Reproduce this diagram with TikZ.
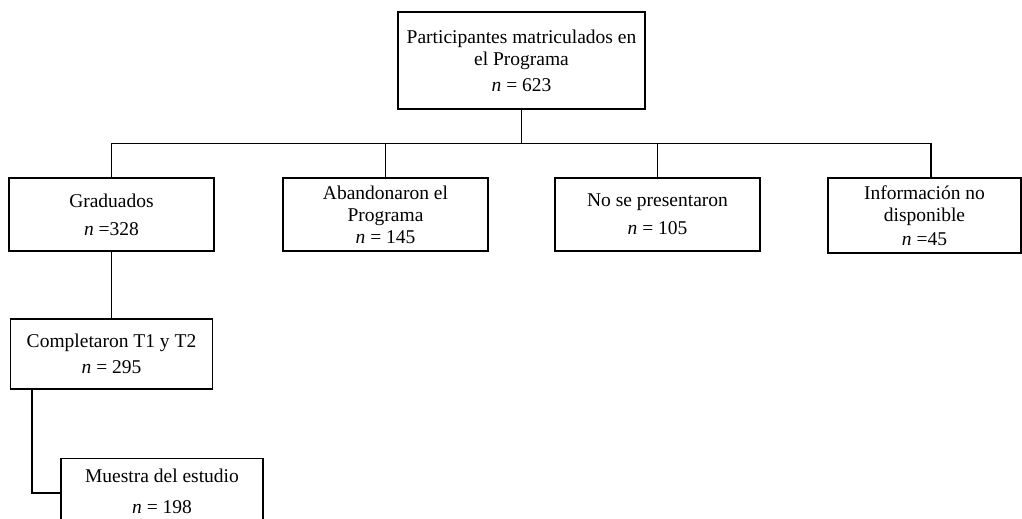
\documentclass[tikz,border=0pt]{standalone}
\usepackage{fontspec}
\setmainfont{Liberation Serif}
\tikzset{
  caja/.style={draw, line width=1.2pt, align=center, inner sep=1pt,
               font=\fontsize{19.5}{22}\selectfont},
  linea/.style={line width=1.2pt}
}
\newcommand{\enn}[1]{\textit{n} #1}
\begin{document}
\begin{tikzpicture}[x=1pt,y=-1pt]
\useasboundingbox (0,0) rectangle (1022,519);

% caja principal
\node[caja, minimum width=247, minimum height=97] (prog) at (521.5,60.5)
      {Participantes matriculados en\\el Programa\\[4pt]\enn{= 623}};

% segundo nivel
\node[caja, minimum width=205, minimum height=73] (grad) at (111.5,214.5)
      {Graduados\\[6pt]\enn{=328}};
\node[caja, minimum width=205, minimum height=73] (aban) at (385.5,214.5)
      {Abandonaron el\\Programa\\[0pt]\enn{= 145}};
\node[caja, minimum width=205, minimum height=73] (nose) at (657.5,214.5)
      {No se presentaron\\[6pt]\enn{= 105}};
\node[caja, minimum width=193, minimum height=75] (info) at (924.5,215.5)
      {Información no\\disponible\\[2pt]\enn{=45}};

% tercer y cuarto nivel
\node[caja, minimum width=202, minimum height=70] (comp) at (111.5,354)
      {Completaron T1 y T2\\[4pt]\enn{= 295}};
\node[caja, minimum width=202, minimum height=70, anchor=north] (mues) at (162,458)
      {\rule{0pt}{19pt}Muestra del estudio\\[9pt]\enn{= 198}\rule[-10pt]{0pt}{10pt}};

% conectores
\coordinate (bus) at (521.5,143.5);
\coordinate (codo) at (32,493);
\draw[linea] (prog.south) -- (bus);
\draw[linea] (grad.north) |- (bus) -| ([xshift=6.5pt]info.north);
\draw[linea] (aban.north) -- (aban.north |- bus);
\draw[linea] (nose.north) -- (nose.north |- bus);
\draw[linea] (grad.south) -- (comp.north);
\draw[linea] (codo |- comp.south) -- (codo) -- (mues.west |- codo);
\end{tikzpicture}
\end{document}
